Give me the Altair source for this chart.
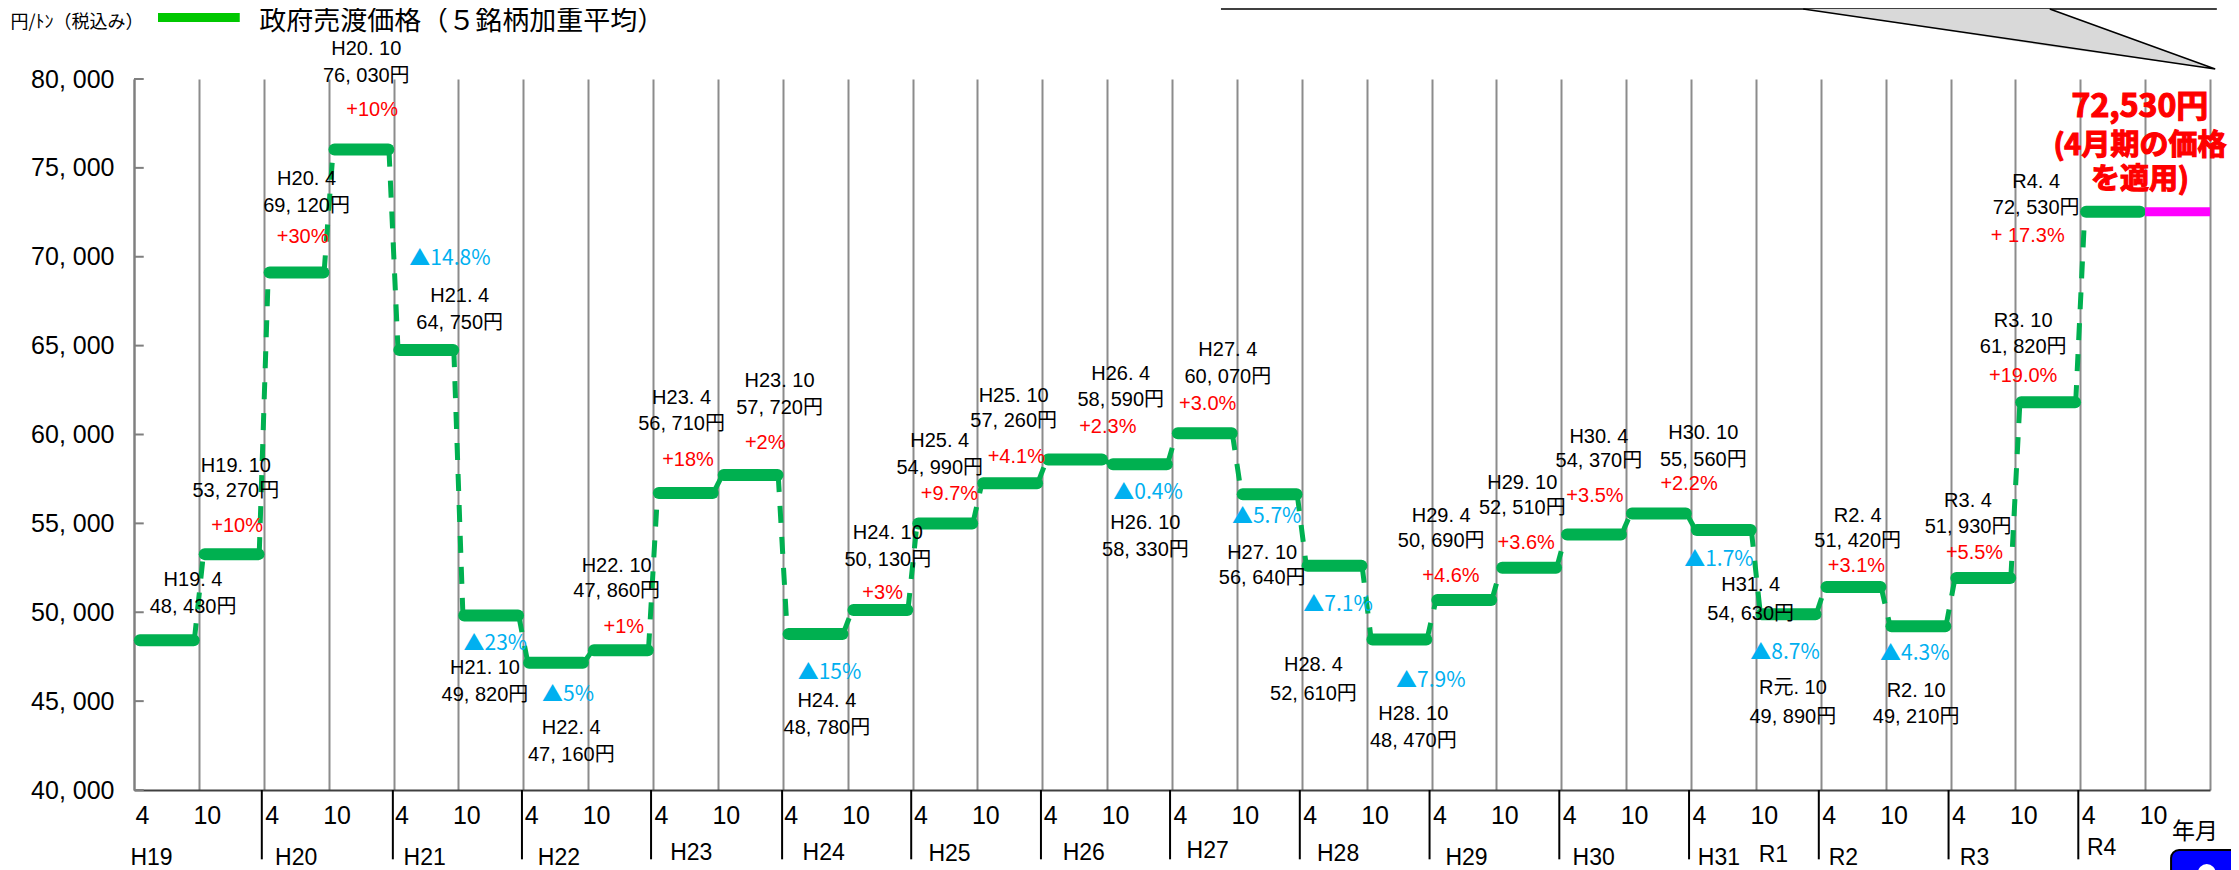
import altair as alt
import pandas as pd

# --- chart values ---
prices = [48430, 53270, 69120, 76030, 64750, 49820, 47160, 47860, 56710, 57720, 48780,
          50130, 54990, 57260, 58590, 58330, 60070, 56640, 52610, 48470, 50690, 52510,
          54370, 55560, 54630, 49890, 51420, 49210, 51930, 61820, 72530]
forecast_price = [72530]

date_labels = ["H19. 4", "H19. 10", "H20. 4", "H20. 10", "H21. 4", "H21. 10", "H22. 4", "H22. 10",
               "H23. 4", "H23. 10", "H24. 4", "H24. 10", "H25. 4", "H25. 10", "H26. 4", "H26. 10",
               "H27. 4", "H27. 10", "H28. 4", "H28. 10", "H29. 4", "H29. 10", "H30. 4", "H30. 10",
               "H31. 4", "R元. 10", "R2. 4", "R2. 10", "R3. 4", "R3. 10", "R4. 4"]
date_at_x = [0.91, 1.57, 2.66, 3.58, 5.02, 5.41, 6.74, 7.44, 8.44, 9.95, 10.68, 11.62, 12.42, 13.56,
             15.21, 15.59, 16.86, 17.39, 18.18, 19.72, 20.15, 21.40, 22.58, 24.19, 24.92, 25.57,
             26.57, 27.47, 28.27, 29.12, 29.32]
date_at_y = [51826, 58253, 74401, 81672, 67814, 46845, 43487, 52629, 62029, 62993, 44997, 54477,
             59619, 62190, 63395, 55040, 64761, 53352, 47006, 44274, 55441, 57289, 59860, 60101,
             51505, 45738, 55441, 45569, 56245, 66367, 74205]
price_at_y = [50300, 56807, 72875, 80186, 66287, 45318, 41968, 51183, 60583, 61467, 43471, 52951,
              58092, 60744, 61949, 53513, 63234, 51906, 45399, 42748, 53995, 55843, 58494, 58575,
              49898, 44106, 53995, 44106, 54799, 64921, 72743]

change_labels = ["+10%", "+30%", "+10%", "▲14.8%", "▲23%", "▲5%", "+1%", "+18%", "+2%", "▲15%", "+3%",
                 "+9.7%", "+4.1%", "+2.3%", "▲0.4%", "+3.0%", "▲5.7%", "▲7.1%", "▲7.9%", "+4.6%", "+3.6%",
                 "+3.5%", "+2.2%", "▲1.7%", "▲8.7%", "+3.1%", "▲4.3%", "+5.5%", "+19.0%", "+ 17.3%"]
change_at_x = [1.59, 2.60, 3.67, 4.87, 5.57, 6.69, 7.55, 8.54, 9.73, 10.72, 11.54, 12.57, 13.60, 15.01,
               15.63, 16.55, 17.46, 18.56, 19.99, 20.30, 21.46, 22.52, 23.97, 24.43, 25.45, 26.55,
               27.45, 28.37, 29.12, 29.19]
change_at_y = [54879, 71108, 78256, 69873, 48210, 45319, 49175, 58574, 59539, 46604, 51103, 56646,
               58735, 60422, 56727, 61708, 55361, 50380, 46122, 52067, 53915, 56566, 57209, 52951,
               47729, 52630, 47648, 53352, 63315, 71188]

year_labels = ["H19", "H20", "H21", "H22", "H23", "H24", "H25", "H26", "H27", "H28", "H29", "H30",
               "H31", "R1", "R2", "R3", "R4", "年月"]
year_at_x = [0.27, 2.50, 4.48, 6.55, 8.59, 10.63, 12.57, 14.64, 16.55, 18.56, 20.54, 22.50, 24.43,
             25.27, 26.35, 28.37, 30.33, 31.77]
year_at_y = [36180, 36180, 36180, 36180, 36440, 36481, 36400, 36481, 36561, 36400, 36180, 36180,
             36180, 36320, 36180, 36180, 36722, 37636]
year_breaks = [1.97, 3.99, 5.98, 7.97, 9.99, 11.98, 13.98, 15.97, 17.97, 19.97, 21.97, 23.97, 25.97,
               27.97, 29.97]

big_labels = ["72,530円", "(4月期の価格", "を適用)"]
big_at_y = [78425, 76230, 74318]
big_sizes = [32, 29, 29]

FONT = "Liberation Sans, Noto Sans CJK JP"
CJK = "Noto Sans CJK JP"
GREEN = "#00b050"
x_scale = alt.Scale(domain=[0, 32], nice=False, zero=False)
y_scale = alt.Scale(domain=[40000, 80000], nice=False, zero=False)
x_axis = alt.Axis(
    values=list(range(33)), grid=True, gridColor="#8c8c8c", gridWidth=2, ticks=False,
    domainColor="#404040", domainWidth=2, labelFontSize=25, labelFont="Liberation Sans",
    labelColor="black", labelOverlap=False, labelOffset=8, labelPadding=13, labelFlush=False,
    labelExpr="datum.value == 32 ? '' : (datum.value % 2 == 0 ? '4' : '10')")
y_axis = alt.Axis(
    values=list(range(40000, 80001, 5000)), grid=False, ticks=False, domainColor="#7f7f7f",
    domainWidth=2, labelFontSize=25, labelFont="Liberation Sans", labelColor="black",
    labelPadding=20, labelExpr="replace(format(datum.value, ','), ',', ', ')")
x_enc = alt.X("x:Q", scale=x_scale, axis=x_axis, title=None)
y_enc = alt.Y("y:Q", scale=y_scale, axis=y_axis, title=None)

# --- frames ---
seg_rows, dash_rows = [], []
for i, p in enumerate(prices):
    seg_rows += [{"x": i + 0.09, "y": p, "s": i}, {"x": i + 0.92, "y": p, "s": i}]
    if i + 1 < len(prices):
        dash_rows += [{"x": i + 0.93, "y": p, "s": i}, {"x": i + 1.07, "y": prices[i + 1], "s": i}]
segs, dashes = pd.DataFrame(seg_rows), pd.DataFrame(dash_rows)

forecast = pd.DataFrame({"x": [31.0, 32.0], "y": forecast_price * 2})
dates = pd.DataFrame({"x": date_at_x, "y": date_at_y, "t": date_labels})
vals = pd.DataFrame({"x": date_at_x, "y": price_at_y,
                     "t": [f"{p // 1000}, {p % 1000:03d}円" for p in prices]})
changes = pd.DataFrame({"x": change_at_x, "y": change_at_y, "t": change_labels})
ups = changes[changes.t.str.startswith("+")]
downs = changes[changes.t.str.startswith("▲")]
years = pd.DataFrame({"x": year_at_x, "y": year_at_y, "t": year_labels})
breaks = pd.DataFrame({"x": year_breaks, "y": [40000] * len(year_breaks), "y2": [36100] * len(year_breaks)})
big = pd.DataFrame({"x": [30.92] * 3, "y": big_at_y, "t": big_labels, "z": big_sizes})
yticks = pd.DataFrame({"x": [0.0] * 9, "x2": [0.15] * 9, "y": list(range(40000, 80001, 5000))})

seg_layer = alt.Chart(segs).mark_line(strokeWidth=12, strokeCap="round", color=GREEN).encode(
    x=x_enc, y=y_enc, detail="s:N")
dash_layer = alt.Chart(dashes).mark_line(strokeWidth=5, strokeDash=[17, 14], color=GREEN).encode(
    x=x_enc, y=y_enc, detail="s:N")
fc_layer = alt.Chart(forecast).mark_line(strokeWidth=9, color="#ff00ff").encode(x=x_enc, y=y_enc)
tick_layer = alt.Chart(yticks).mark_rule(color="#7f7f7f", strokeWidth=2).encode(x=x_enc, x2="x2:Q", y=y_enc)
break_layer = alt.Chart(breaks).mark_rule(color="black", strokeWidth=2).encode(x=x_enc, y=y_enc, y2="y2:Q")


def text_layer(df, size, color="black", font=FONT, **kw):
    return alt.Chart(df).mark_text(fontSize=size, color=color, font=font, align="center",
                                   baseline="middle", **kw).encode(x=x_enc, y=y_enc, text="t:N")


# --- callout, legend, badge (top and corner furniture) ---
box = pd.DataFrame({"x": [16.77], "x2": [32.09], "y": [85000], "y2": [83938]})
box_layer = alt.Chart(box).mark_rect(fill="#d9d9d9", stroke="#404040", strokeWidth=2).encode(
    x=x_enc, x2="x2:Q", y=y_enc, y2="y2:Q")
tail = pd.DataFrame({"x": [25.73, 29.53, 32.08], "y": [83938, 83938, 80563], "y2": [83938, 81832, 80563]})
tail_layer = alt.Chart(tail).mark_area(fill="#d9d9d9").encode(x=x_enc, y=y_enc, y2="y2:Q")
edge = pd.DataFrame({"x": [25.73, 32.08, 29.53], "y": [83938, 80563, 83938], "o": [0, 1, 2]})
edge_layer = alt.Chart(edge).mark_line(color="black", strokeWidth=1.5).encode(
    x=x_enc, y=y_enc, order=alt.Order("o:Q"))
legend_key = pd.DataFrame({"x": [0.37], "x2": [1.63], "y": [83713], "y2": [83207]})
key_layer = alt.Chart(legend_key).mark_rect(color="#00c800").encode(x=x_enc, x2="x2:Q", y=y_enc, y2="y2:Q")
unit = pd.DataFrame({"x": [-0.88], "y": [83150], "t": ["円/ﾄﾝ（税込み）"]})
title = pd.DataFrame({"x": [1.93], "y": [83200], "t": ["政府売渡価格（５銘柄加重平均）"]})
title_layer = alt.Chart(title).mark_text(fontSize=27, font=CJK, align="left", baseline="middle",
                                         color="black").encode(x=x_enc, y=y_enc, text="t:N")
badge = pd.DataFrame({"x": [31.40], "x2": [32.50], "y": [36624], "y2": [34000]})
badge_layer = alt.Chart(badge).mark_rect(fill="#0000ff", stroke="black", strokeWidth=2, cornerRadius=8).encode(
    x=x_enc, x2="x2:Q", y=y_enc, y2="y2:Q")
dot = pd.DataFrame({"x": [31.95], "y": [35330]})
dot_layer = alt.Chart(dot).mark_point(filled=True, color="white", opacity=1, size=320).encode(x=x_enc, y=y_enc)

big_layer = alt.Chart(big).mark_text(font=CJK, fontWeight="bold", color="#ff0000", stroke="#ff0000",
                                     strokeWidth=1.2, align="center", baseline="middle").encode(
    x=x_enc, y=y_enc, text="t:N", size=alt.Size("z:Q", scale=None, legend=None))

chart = alt.layer(
    seg_layer, tick_layer, break_layer, box_layer, tail_layer, edge_layer, key_layer,
    dash_layer, fc_layer, badge_layer, dot_layer,
    title_layer,
    text_layer(unit, 18, font=CJK),
    text_layer(dates, 20), text_layer(vals, 20),
    text_layer(ups, 20, "#ff0000"), text_layer(downs, 21, "#00b0f0", font=CJK),
    text_layer(years, 23),
    big_layer,
).properties(
    width=2076, height=711,
    padding={"left": 126, "top": 71, "right": 21, "bottom": 80},
    autosize=alt.AutoSizeParams(type="none"),
    background="white",
).configure_view(stroke=None)

chart.save("out.html", embed_options={"renderer": "svg", "actions": False})
